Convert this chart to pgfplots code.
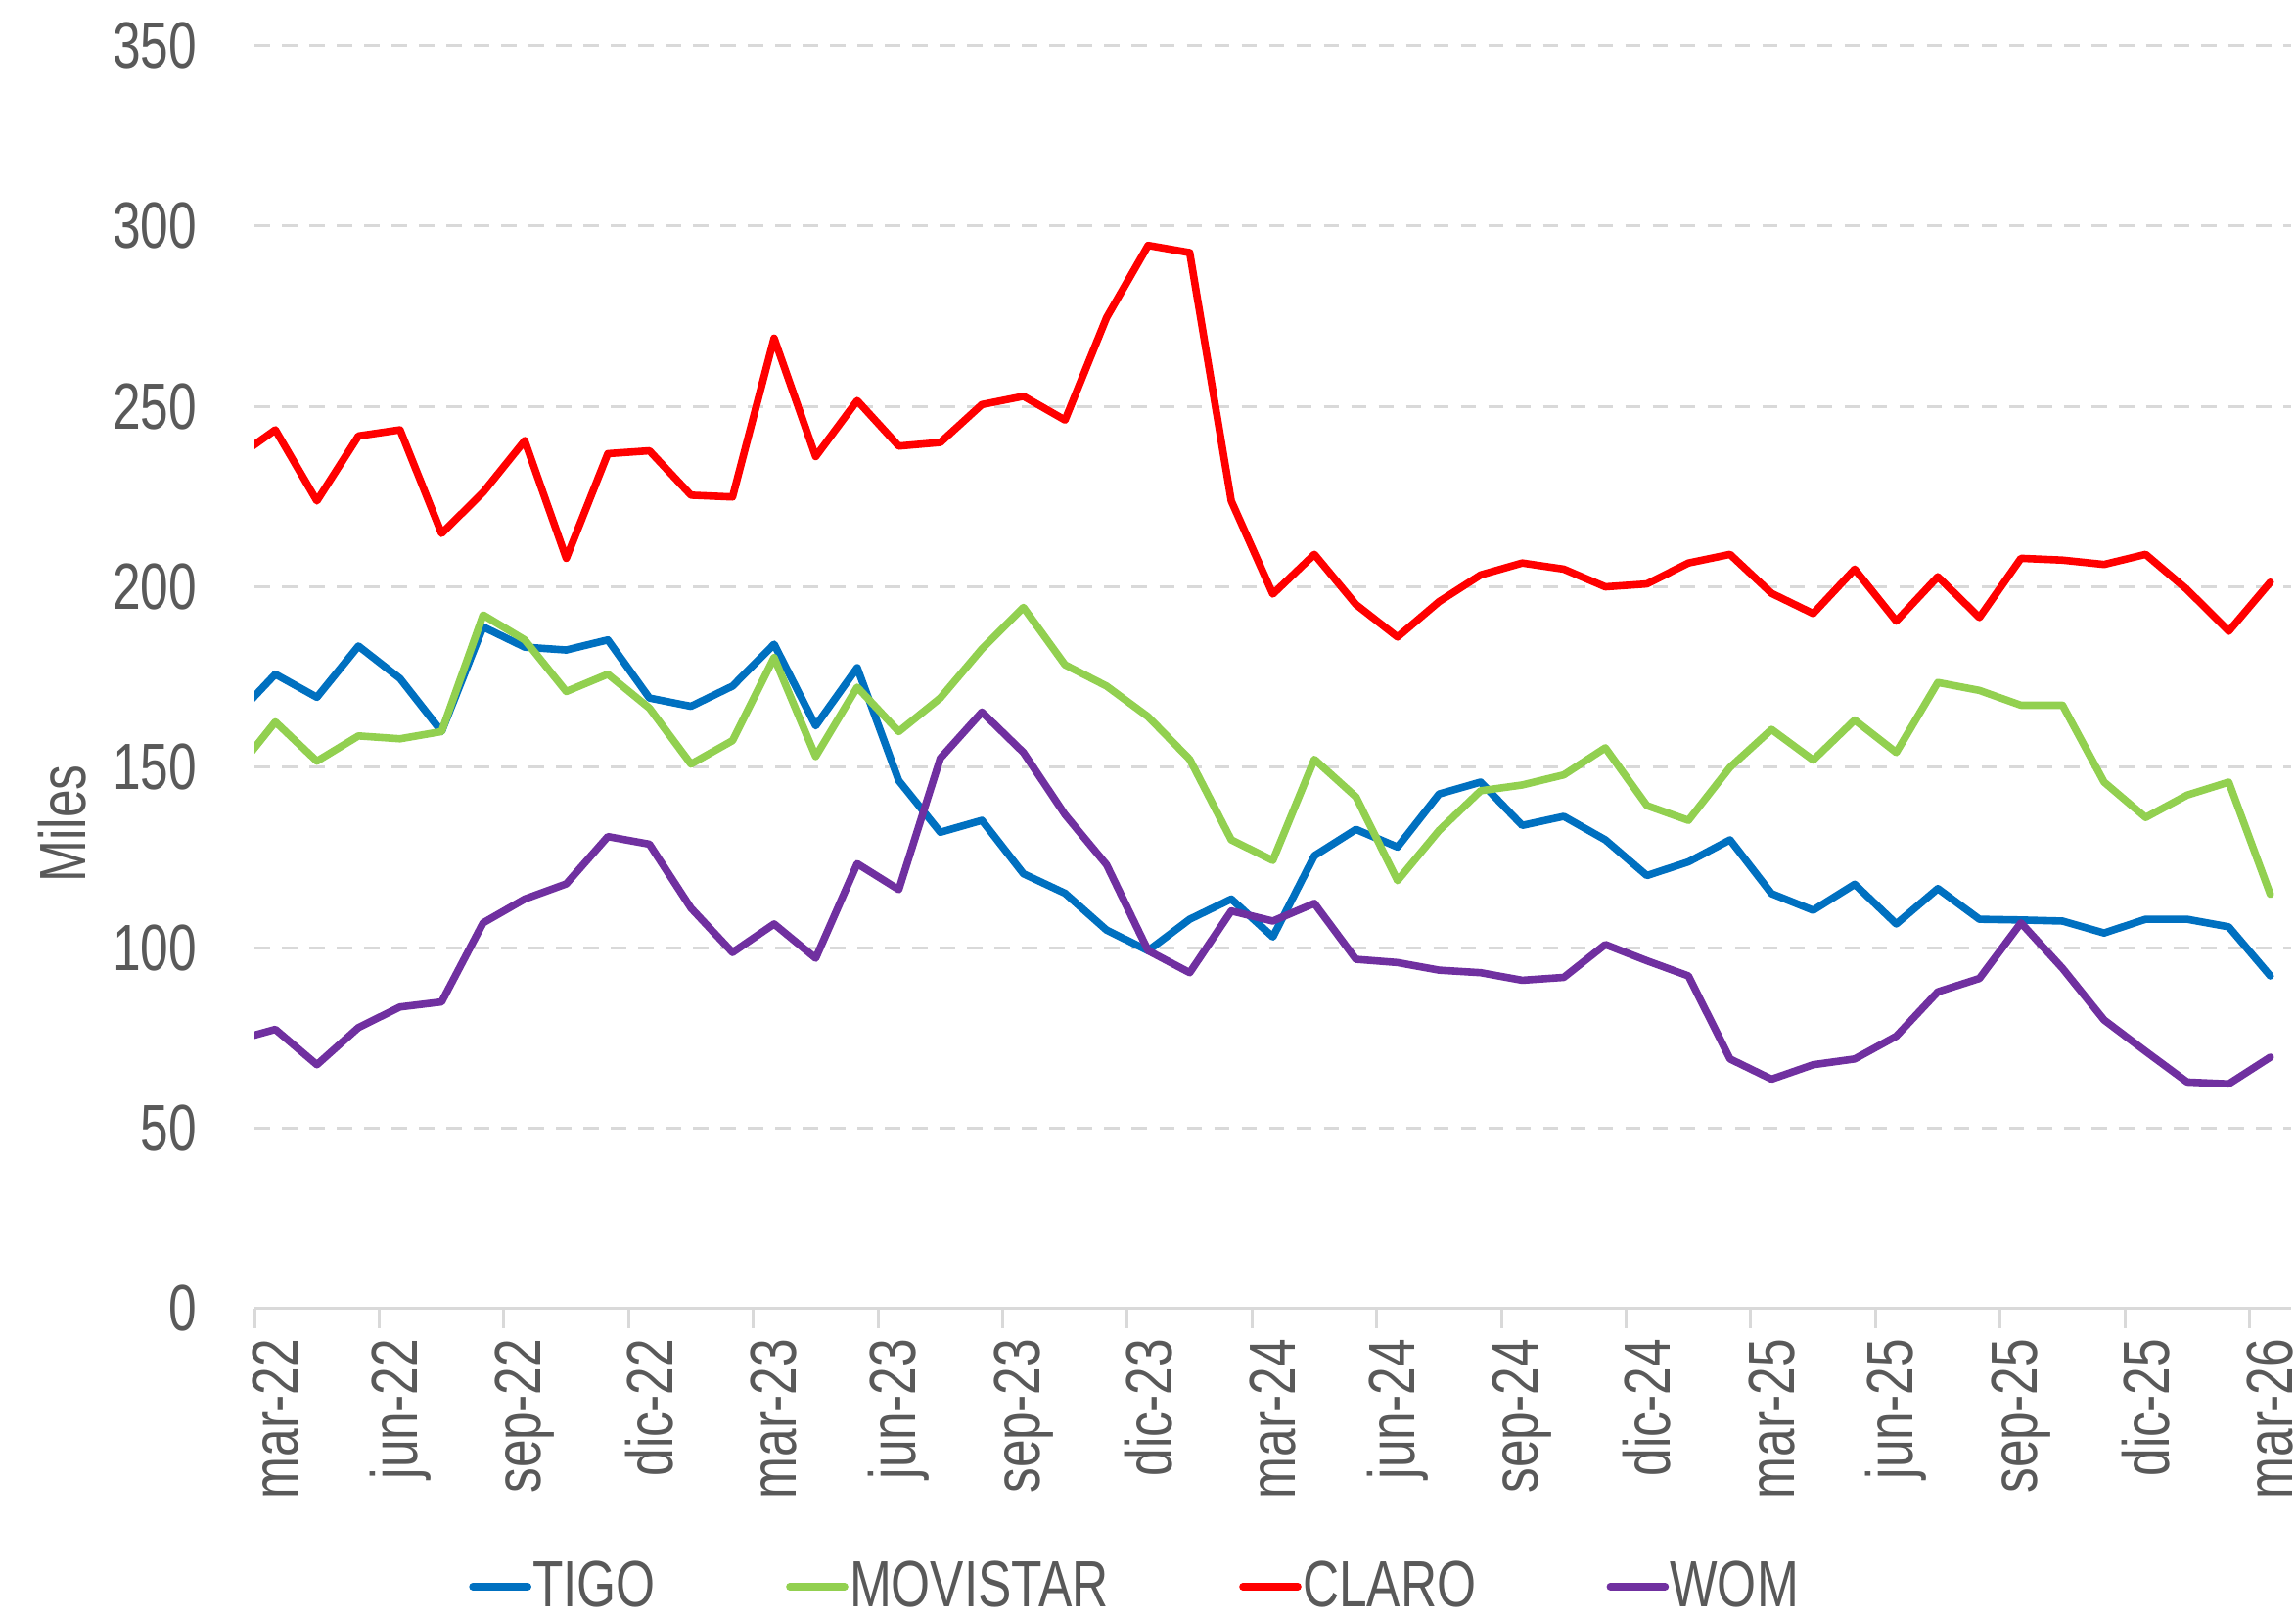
\documentclass[border=0pt]{standalone}
\usepackage{fontspec}
\setmainfont{Liberation Sans}[FakeStretch=0.77]
\usepackage{pgfplots}
\usepackage{pgfplotstable}
\pgfplotsset{compat=1.18}

\definecolor{tigo}{HTML}{0070C0}
\definecolor{movistar}{HTML}{92D050}
\definecolor{claro}{HTML}{FF0000}
\definecolor{wom}{HTML}{7030A0}
\definecolor{txtgray}{HTML}{595959}
\definecolor{gridgray}{HTML}{D9D9D9}

% monthly values (thousands); i=0 is mar-22, i=-1 is the clipped feb-22 point
\pgfplotstableread{
i  tigo  movistar claro wom
-1 163.6 148.2 235.3 74.2
0  175.8 162.6 243.5 77.4
1  169.4 151.7 223.8 67.6
2  183.6 158.7 241.8 77.9
3  174.6 157.9 243.5 83.6
4  159.9 159.9 214.8 85.0
5  188.9 192.2 226.2 106.9
6  183.3 185.3 240.5 113.5
7  182.5 171.0 207.9 117.7
8  185.3 175.8 236.9 130.8
9  169.2 166.4 237.7 128.7
10 166.9 150.9 225.4 111.0
11 172.5 157.4 224.9 98.7
12 184.1 180.4 268.9 106.6
13 161.5 153.0 236.1 97.1
14 177.6 172.2 251.6 123.3
15 146.3 159.9 239.0 116.1
16 132.0 169.2 240.0 152.5
17 135.3 182.8 250.5 165.3
18 120.5 194.3 252.8 154.1
19 115.1 178.4 246.2 136.9
20 104.9 172.5 274.6 123.0
21 99.2  164.0 294.6 99.2
22 107.9 152.2 292.6 93.1
23 113.5 129.9 223.8 110.2
24 103.0 124.2 198.0 107.4
25 125.5 152.2 209.0 112.3
26 132.8 141.8 195.1 96.8
27 127.9 118.6 186.1 95.9
28 142.6 132.5 195.9 93.8
29 145.9 143.5 203.3 93.1
30 133.9 145.1 206.6 91.0
31 136.4 147.9 204.9 91.8
32 129.9 155.4 200.0 100.9
33 120.0 139.4 200.8 96.4
34 123.8 135.3 206.6 92.2
35 129.9 150.0 209.0 69.2
36 115.0 160.5 198.2 63.6
37 110.4 152.0 192.6 67.6
38 117.6 163.1 204.9 69.2
39 106.6 154.1 190.5 75.5
40 116.4 173.5 202.8 87.8
41 107.9 171.3 191.5 91.5
42 107.7 167.2 207.9 106.9
43 107.4 167.2 207.4 94.3
44 104.1 145.9 206.2 80.0
45 107.9 136.1 209.0 71.3
46 107.9 142.3 199.2 62.8
47 105.8 145.9 187.7 62.3
48 92.2  114.8 201.3 69.7
}\datatable

\begin{document}
\begin{tikzpicture}
\path[use as bounding box] (-65pt,-79pt) rectangle (521.25pt,334.1pt);
\begin{axis}[
  at={(0,0)}, anchor=south west,
  scale only axis, width=520pt, height=322.5pt,
  xmin=-0.5, xmax=48.5, ymin=0, ymax=350,
  axis x line*=bottom, axis y line*=left,
  x axis line style={draw=gridgray, line width=0.75pt},
  y axis line style={draw=none},
  xtick={0,3,...,48},
  xticklabels={mar-22,jun-22,sep-22,dic-22,mar-23,jun-23,sep-23,dic-23,mar-24,jun-24,sep-24,dic-24,mar-25,jun-25,sep-25,dic-25,mar-26},
  minor xtick={-0.5,2.5,...,47.5},
  tick align=outside, minor tick length=5pt,
  x tick style={draw=none}, y tick style={draw=none},
  minor x tick style={draw=gridgray, line width=0.75pt},
  ytick={0,50,...,350},
  ymajorgrids,
  major grid style={draw=gridgray, line width=0.75pt, dash pattern=on 3.9pt off 3.1pt},
  /pgf/number format/assume math mode=true,
  tick label style={font=\fontsize{16.7}{20}\selectfont, text=txtgray},
  xticklabel style={rotate=90, anchor=east},
  yticklabel style={xshift=-7pt},
  ylabel={Miles},
  every axis y label/.style={at={(axis description cs:-0.0942,0.384)}, rotate=90, anchor=center,
    font=\fontsize{16.7}{20}\selectfont, text=txtgray},
  legend columns=4,
  legend style={at={(0.0992,-0.220)}, anchor=west, draw=none, fill=none,
    font=\fontsize{16.7}{20}\selectfont, text=txtgray,
    nodes={inner xsep=0.3pt},
    /tikz/every even column/.append style={column sep=33pt}},
  legend image code/.code={\draw[#1] (0pt,0pt) -- (14pt,0pt);},
  every axis plot/.append style={line width=1.9pt, line join=round, line cap=round},
]
\addplot[tigo] table[x=i, y=tigo] {\datatable};
\addlegendentry{TIGO}
\addplot[movistar] table[x=i, y=movistar] {\datatable};
\addlegendentry{MOVISTAR}
\addplot[claro] table[x=i, y=claro] {\datatable};
\addlegendentry{CLARO}
\addplot[wom] table[x=i, y=wom] {\datatable};
\addlegendentry{WOM}
\end{axis}
\end{tikzpicture}
\end{document}
